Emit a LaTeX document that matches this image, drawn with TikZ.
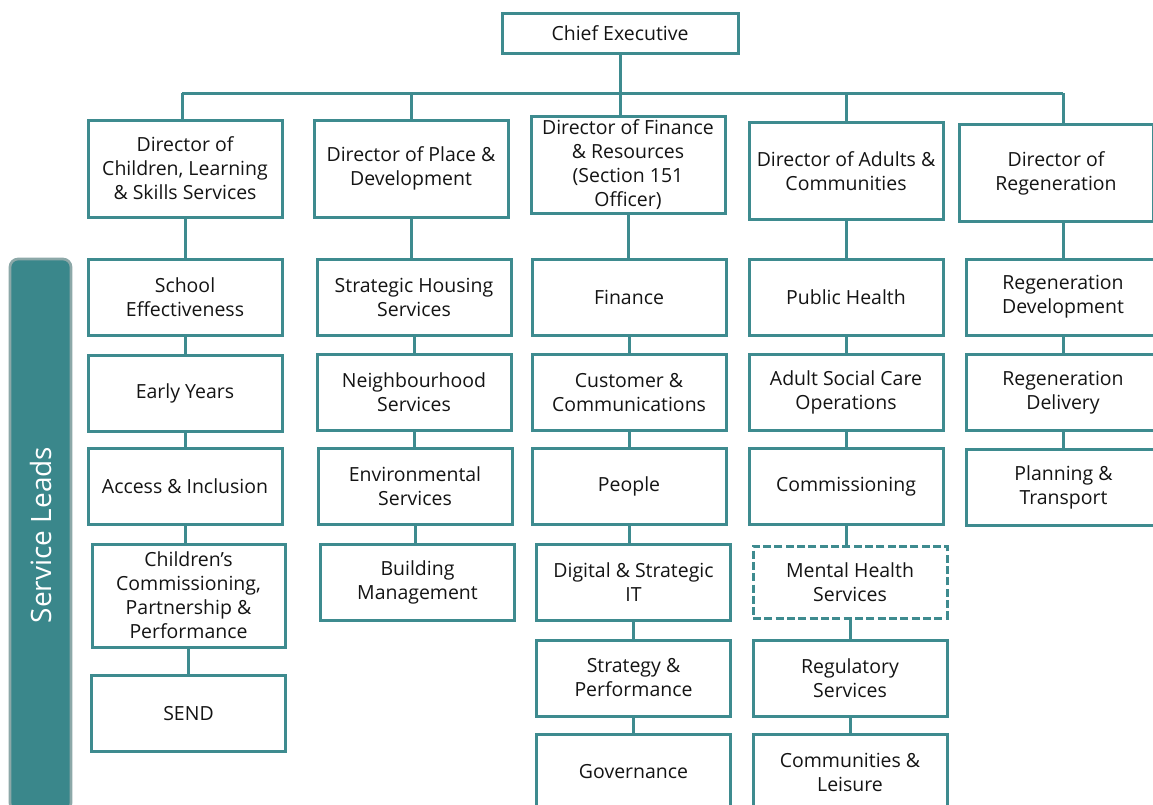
\documentclass[tikz,border=0pt]{standalone}
\usepackage{fontspec}
\setmainfont{Open Sans}
\definecolor{tealc}{RGB}{62,139,143}
\definecolor{barfill}{RGB}{58,135,139}
\definecolor{bargray}{RGB}{140,168,168}
\begin{document}
\begin{tikzpicture}[x=0.75pt,y=-0.75pt,
  bx/.style 2 args={draw=tealc, line width=2.25pt, fill=white, minimum width=#1, minimum height=#2, inner sep=0pt, align=center, font=\fontsize{14.6}{18}\selectfont, text=black!92},
  std/.style={bx={145.5pt}{57pt}},
  dir/.style={bx={145.5pt}{72.75pt}},
  conn/.style={draw=tealc, line width=2.25pt}]
\useasboundingbox (0,0) rectangle (1153,804);

% service leads bar
\node[draw=bargray, fill=barfill, line width=2pt, rounded corners=6pt, minimum width=45.75pt, minimum height=414pt, inner sep=0pt] (bar) at (40.5,535) {};
\node[rotate=90, text=white, font=\fontsize{21}{24}\selectfont] (barlabel) at (40.5,535) {Service Leads};

% top
\node[bx={177pt}{30pt}] (ce) at (620,33) {Chief Executive};
\node[dir] (d1) at (185,168.5) {Director of\\Children, Learning\\\& Skills Services};
\node[dir] (d2) at (411,168.5) {Director of Place \&\\Development};
\node[dir] (d3) at (628,164.5) {Director of Finance\\\& Resources\\(Section 151\\Officer)};
\node[dir] (d4) at (846,171) {Director of Adults \&\\Communities};
\node[dir] (d5) at (1056,173) {Director of\\Regeneration};

\coordinate (busL) at (182,93);
\coordinate (busR) at (1063,93);

% column 1
\node[std] (a1) at (185,297) {School\\Effectiveness};
\node[std] (a2) at (185,393) {Early Years};
\node[std] (a3) at (185,486.5) {Access \& Inclusion};
\node[bx={144.75pt}{77.25pt}] (a4) at (188.5,595.5) {Children’s\\Commissioning,\\Partnership \&\\Performance};
\node[std] (a5) at (188.5,713.5) {SEND};

% column 2
\node[std] (b1) at (414,297) {Strategic Housing\\Services};
\node[std] (b2) at (414,392.5) {Neighbourhood\\Services};
\node[std] (b3) at (415,486.5) {Environmental\\Services};
\node[std] (b4) at (417.5,582) {Building\\Management};

% column 3
\node[std] (c1) at (629,297) {Finance};
\node[std] (c2) at (629,392.5) {Customer \&\\Communications};
\node[std] (c3) at (629,486.5) {People};
\node[std] (c4) at (633.5,582) {Digital \& Strategic\\IT};
\node[std] (c5) at (633.5,678) {Strategy \&\\Performance};
\node[std] (c6) at (633.5,772) {Governance};

% column 4
\node[std] (e1) at (846,297) {Public Health};
\node[std] (e2) at (846,392.5) {Adult Social Care\\Operations};
\node[std] (e3) at (846,486.5) {Commissioning};
\node[bx={145.5pt}{54pt}, dash pattern=on 6pt off 2.5pt] (e4) at (850,582) {Mental Health\\Services};
\node[std] (e5) at (850,678) {Regulatory\\Services};
\node[std] (e6) at (850,772) {Communities \&\\Leisure};

% column 5
\node[std] (f1) at (1063,297) {Regeneration\\Development};
\node[std] (f2) at (1063,392.5) {Regeneration\\Delivery};
\node[std] (f3) at (1063.5,487) {Planning \&\\Transport};

% connectors
\draw[conn] (busL) -- (busR);
\draw[conn] (ce.south) -- (ce.south |- busL);
\draw[conn] (busL) -- (busL |- d1.north);
\draw[conn] (d2.north) -- (d2.north |- busL);
\draw[conn] (ce.south |- busL) -- (ce.south |- d3.north);
\draw[conn] (d4.north) -- (d4.north |- busL);
\draw[conn] (busR) -- (busR |- d5.north);

\draw[conn] (d1.south) -- (d1.south |- a1.north);
\draw[conn] (a1.south) -- (a1.south |- a2.north);
\draw[conn] (a2.south) -- (a2.south |- a3.north);
\draw[conn] (a3.south) -- (a3.south |- a4.north);
\draw[conn] (a4.south) -- (a4.south |- a5.north);

\draw[conn] (d2.south) -- (d2.south |- b1.north);
\draw[conn] (b1.south) -- (b1.south |- b2.north);
\draw[conn] (b2.south) -- (b2.south |- b3.north);
\draw[conn] (b3.south) -- (b3.south |- b4.north);

\draw[conn] (d3.south) -- (d3.south |- c1.north);
\draw[conn] (c1.south) -- (c1.south |- c2.north);
\draw[conn] (c2.south) -- (c2.south |- c3.north);
\draw[conn] (c3.south) -- (c3.south |- c4.north);
\draw[conn] (c4.south) -- (c4.south |- c5.north);
\draw[conn] (c5.south) -- (c5.south |- c6.north);

\draw[conn] (d4.south) -- (d4.south |- e1.north);
\draw[conn] (e1.south) -- (e1.south |- e2.north);
\draw[conn] (e2.south) -- (e2.south |- e3.north);
\draw[conn] (e3.south) -- (e3.south |- e4.north);
\draw[conn] (e4.south) -- (e4.south |- e5.north);
\draw[conn] (e5.south) -- (e5.south |- e6.north);

\draw[conn] (f1.north |- d5.south) -- (f1.north);
\draw[conn] (f1.south) -- (f1.south |- f2.north);
\draw[conn] (f2.south) -- (f2.south |- f3.north);
\end{tikzpicture}
\end{document}
